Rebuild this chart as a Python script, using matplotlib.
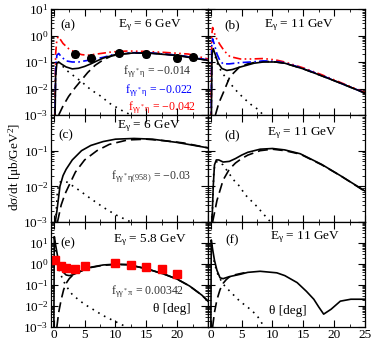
import matplotlib
matplotlib.use("Agg")
import matplotlib.pyplot as plt
import numpy as np
from matplotlib.ticker import LogLocator, MultipleLocator, NullFormatter, FuncFormatter

plt.rcParams['font.family'] = ['Liberation Serif', 'DejaVu Serif']
plt.rcParams['mathtext.fontset'] = 'custom'
plt.rcParams['mathtext.rm'] = 'Liberation Serif'
plt.rcParams['mathtext.default'] = 'regular'

# ---- panel (a): eta, 6 GeV ----
a_dot_t = [0.15, 0.25, 0.4, 0.6, 1.0, 2.0, 3.0, 4.5, 6.0, 7.7, 9.0, 11.0, 12.5]
a_dot_y = [1e-4, 0.02, 0.08, 0.1, 0.09, 0.05, 0.033, 0.018, 0.009, 0.005, 0.0028, 0.0015, 0.001]
a_dash_t = [0.8, 1.5, 2.4, 3.5, 4.5, 5.5, 6.7, 8.0, 9.4, 11, 13, 15, 17, 19, 21, 23, 25]
a_dash_y = [0.001, 0.0022, 0.005, 0.011, 0.021, 0.04, 0.075, 0.12, 0.17, 0.2, 0.22, 0.22, 0.21, 0.19, 0.17, 0.14, 0.115]
a_tot_t = [0.15, 0.3, 0.5, 0.8, 1.2, 2.0, 3.0, 4.0, 5.0, 6.0, 7.0, 8.0, 10, 13, 16, 20, 25]
a_tot_y = [1e-4, 0.03, 0.09, 0.1, 0.085, 0.065, 0.055, 0.058, 0.068, 0.085, 0.11, 0.14, 0.19, 0.22, 0.21, 0.175, 0.115]
a_blue_t = [0.15, 0.3, 0.5, 0.8, 1.2, 2.0, 3.0, 4.0, 5.0, 6.0, 8.0, 10, 13, 16, 20, 25]
a_blue_y = [1e-4, 0.05, 0.18, 0.21, 0.16, 0.11, 0.1, 0.1, 0.11, 0.12, 0.15, 0.2, 0.225, 0.215, 0.18, 0.12]
a_red_t = [0.15, 0.3, 0.5, 0.7, 1.0, 1.5, 2.4, 3.5, 4.5, 5.5, 7.0, 9.4, 12, 15, 18, 21.8, 25]
a_red_y = [1e-4, 0.2, 0.7, 0.9, 0.75, 0.5, 0.32, 0.23, 0.19, 0.18, 0.2, 0.24, 0.26, 0.25, 0.23, 0.2, 0.13]
a_data_t = [3.5, 6.0, 10.5, 15.0, 20.0, 22.5]
a_data_y = [0.2, 0.14, 0.22, 0.2, 0.14, 0.15]
a_data_err = [0.04, 0.03, 0.04, 0.04, 0.03, 0.03]

# ---- panel (b): eta, 11 GeV ----
b_dot_t = [0.05, 0.15, 0.3, 0.6, 1.2, 2.0, 3.1, 4.2, 5.3, 6.5, 7.7, 8.5]
b_dot_y = [1e-4, 0.1, 0.3, 0.2, 0.07, 0.035, 0.016, 0.008, 0.0044, 0.0025, 0.0016, 0.001]
b_dash_t = [0.75, 1.3, 2.0, 3.1, 4.7, 6.0, 7.5, 9.0, 10.5, 12, 15, 18, 21, 25]
b_dash_y = [0.001, 0.0028, 0.0067, 0.028, 0.066, 0.085, 0.1, 0.105, 0.1, 0.09, 0.055, 0.03, 0.016, 0.0067]
b_tot_t = [0.05, 0.2, 0.4, 0.7, 1.2, 1.8, 2.6, 3.5, 4.5, 5.8, 7.0, 8.5, 10.5, 12, 15, 18, 21, 25]
b_tot_y = [1e-4, 0.2, 0.32, 0.2, 0.09, 0.057, 0.048, 0.052, 0.062, 0.075, 0.09, 0.1, 0.1, 0.09, 0.055, 0.03, 0.016, 0.0067]
b_blue_t = [0.05, 0.15, 0.3, 0.6, 1.0, 1.5, 2.0, 3.0, 4.8, 6.5, 8.5, 10.5, 12, 15, 18, 21, 25]
b_blue_y = [1e-4, 0.4, 0.75, 0.45, 0.2, 0.11, 0.085, 0.085, 0.095, 0.1, 0.11, 0.105, 0.093, 0.057, 0.031, 0.016, 0.0068]
b_red_t = [0.05, 0.15, 0.3, 0.6, 1.0, 1.5, 2.2, 3.1, 4.8, 6.5, 8.5, 10.5, 12, 15, 18, 21, 25]
b_red_y = [1e-4, 1.0, 2.0, 1.2, 0.7, 0.45, 0.26, 0.16, 0.13, 0.13, 0.135, 0.12, 0.1, 0.06, 0.033, 0.017, 0.007]

# ---- panel (c): eta', 6 GeV ----
c_dot_t = [0.3, 0.6, 1.0, 1.5, 2.2, 4.0, 6.0, 8.0, 10.0, 12.5]
c_dot_y = [0.001, 0.008, 0.013, 0.014, 0.013, 0.008, 0.0045, 0.0026, 0.0016, 0.001]
c_dash_t = [0.6, 1.2, 1.8, 2.4, 3.5, 5.0, 7.0, 9.0, 12, 15, 18, 21, 25]
c_dash_y = [0.001, 0.003, 0.006, 0.01, 0.025, 0.055, 0.1, 0.15, 0.2, 0.21, 0.19, 0.165, 0.12]
c_tot_t = [0.25, 0.5, 1.0, 1.5, 2.0, 3.0, 4.5, 6.0, 8.0, 10, 13, 16, 20, 25]
c_tot_y = [0.001, 0.002, 0.01, 0.02, 0.03, 0.055, 0.1, 0.14, 0.18, 0.21, 0.22, 0.21, 0.17, 0.12]

# ---- panel (d): eta', 11 GeV ----
d_dot_t = [0.2, 0.5, 1.0, 2.0, 2.8, 4.0, 4.7, 5.5, 7.5, 8.5, 9.7]
d_dot_y = [0.001, 0.03, 0.05, 0.04, 0.025, 0.013, 0.01, 0.006, 0.0027, 0.0017, 0.001]
d_dash_t = [0.3, 1.0, 2.0, 3.0, 4.0, 5.0, 6.0, 8.0, 10, 12, 14.5, 18, 21, 25]
d_dash_y = [0.001, 0.004, 0.015, 0.03, 0.045, 0.06, 0.075, 0.1, 0.11, 0.1, 0.08, 0.04, 0.02, 0.0072]
d_tot_t = [0.2, 0.4, 0.6, 0.9, 1.3, 2.0, 3.0, 4.0, 5.0, 6.0, 8.0, 10, 12, 14.5, 18, 21, 25]
d_tot_y = [0.001, 0.01, 0.04, 0.055, 0.055, 0.048, 0.05, 0.06, 0.075, 0.09, 0.11, 0.115, 0.105, 0.082, 0.041, 0.02, 0.0074]

# ---- panel (e): pi0, 5.8 GeV ----
e_dot_t = [0.08, 0.3, 0.6, 1.0, 1.5, 2.0, 3.0, 4.0, 5.0, 6.5, 8.0, 10.0, 11.8]
e_dot_y = [20, 5, 1.2, 0.4, 0.17, 0.09, 0.035, 0.02, 0.012, 0.0065, 0.0035, 0.0018, 0.001]
e_dash_t = [0.5, 0.8, 1.2, 1.6, 2.0, 2.5, 3.0, 4.0, 5.0, 6.0, 8.0, 10, 12, 15, 18, 20, 22, 24, 25]
e_dash_y = [0.001, 0.005, 0.02, 0.06, 0.12, 0.2, 0.28, 0.4, 0.55, 0.68, 0.87, 0.95, 0.92, 0.6, 0.32, 0.19, 0.09, 0.033, 0.017]
e_tot_t = [0.0, 0.08, 0.3, 0.6, 1.0, 1.5, 2.0, 2.5, 3.0, 4.0, 5.0, 6.0, 8.0, 10, 12, 15, 18, 20, 22, 24, 25]
e_tot_y = [1e-4, 20, 8, 2.5, 0.9, 0.42, 0.3, 0.28, 0.3, 0.4, 0.55, 0.7, 0.9, 0.98, 0.94, 0.6, 0.32, 0.19, 0.09, 0.033, 0.017]
e_data_t = [0.2, 1.2, 2.0, 3.5, 5.0, 10.0, 12.5, 15.0, 17.5, 20.0]
e_data_y = [1.6, 0.78, 0.66, 0.55, 0.78, 1.13, 0.93, 0.7, 0.55, 0.35]

# ---- panel (f): pi0, 11 GeV ----
f_dot_t = [0.5, 1.0, 1.5, 2.0, 3.1, 4.7, 6.4, 7.5, 8.5]
f_dot_y = [1.5, 0.4, 0.2, 0.11, 0.05, 0.017, 0.007, 0.0035, 0.0012]
f_dash_t = [0.3, 0.6, 1.0, 1.5, 2.0, 2.5, 3.0, 4.0, 5.0, 6.0]
f_dash_y = [0.001, 0.005, 0.02, 0.06, 0.12, 0.18, 0.24, 0.31, 0.36, 0.41]
f_tot_t = [0.0, 0.08, 0.3, 0.6, 1.0, 1.5, 2.0, 3.0, 4.7, 6.0, 8.0, 10.7, 12, 14, 15.5, 16.7, 17.5, 18.3, 19.5, 21, 22.7, 25]
f_tot_y = [1e-4, 14, 5, 1.5, 0.5, 0.22, 0.2, 0.25, 0.32, 0.4, 0.45, 0.38, 0.28, 0.13, 0.05, 0.021, 0.009, 0.0041, 0.007, 0.017, 0.021, 0.021]

RED = '#ff0000'
BLUE = '#0000ff'
DASH = (0, (6, 3))
DOT = (0, (1, 3))
DASHDOT = (0, (5, 2, 1, 2))
DASHDOTDOT = (0, (5, 2, 1, 2, 1, 2))
FS = 9.5
FS_F = 8.5


def setup(ax, ylim, left, bottom, hide_top=False, hide_right_x=False):
    ax.set_yscale('log')
    ax.set_xlim(-0.45, 25)
    ax.set_ylim(*ylim)
    ax.xaxis.set_major_locator(MultipleLocator(5))
    ax.xaxis.set_minor_locator(MultipleLocator(2.5))
    ax.yaxis.set_major_locator(LogLocator(base=10, numticks=10))
    ax.yaxis.set_minor_locator(LogLocator(base=10, subs=np.arange(2, 10), numticks=10))
    ax.yaxis.set_minor_formatter(NullFormatter())
    ax.tick_params(which='both', direction='in', top=True, right=True, labelsize=FS)
    ax.tick_params(which='major', length=5, width=0.8)
    ax.tick_params(which='minor', length=2.5, width=0.6)
    ax.tick_params(axis='x', pad=1.5)
    ax.tick_params(axis='y', pad=2)
    if left:
        top_exp = int(round(np.log10(ylim[1])))

        def fmt(v, pos, top_exp=top_exp):
            e = int(round(np.log10(v)))
            if hide_top and e == top_exp:
                return ''
            return r'10$^{%d}$' % e
        ax.yaxis.set_major_formatter(FuncFormatter(fmt))
    else:
        ax.tick_params(labelleft=False)
    if bottom:
        if hide_right_x:
            ax.xaxis.set_major_formatter(FuncFormatter(lambda v, p: '' if v > 24 else '%d' % v))
    else:
        ax.tick_params(labelbottom=False)
    for s in ax.spines.values():
        s.set_linewidth(0.9)


fig = plt.figure(figsize=(3.74, 3.43), dpi=100)
W = 374.0
H = 343.0
cols = [51, 208]
rows = [(9, 115), (115, 222), (222, 327)]
axes = {}
names = [['a', 'b'], ['c', 'd'], ['e', 'f']]
for r, (ytop, ybot) in enumerate(rows):
    for c, x0 in enumerate(cols):
        ax = fig.add_axes([x0 / W, 1 - ybot / H, 157 / W, (ybot - ytop) / H])
        axes[names[r][c]] = ax

lw = 1.2
# (a)
ax = axes['a']
ax.plot(a_dot_t, a_dot_y, color='k', ls=DOT, lw=lw)
ax.plot(a_dash_t, a_dash_y, color='k', ls=DASH, lw=lw)
ax.plot(a_red_t, a_red_y, color=RED, ls=DASHDOTDOT, lw=lw)
ax.plot(a_blue_t, a_blue_y, color=BLUE, ls=DASHDOT, lw=lw)
ax.plot(a_tot_t, a_tot_y, color='k', lw=lw)
ax.errorbar(a_data_t, a_data_y, yerr=a_data_err, fmt='o', color='k', ms=5.5, capsize=2, elinewidth=0.8)
setup(ax, (1e-3, 10), True, False)
ax.text(0.108, 0.85, '(a)', transform=ax.transAxes, ha='center', va='center', fontsize=FS)
ax.text(0.627, 0.85, 'E$_γ$ = 6 GeV', transform=ax.transAxes, ha='center', va='center', fontsize=FS)
ax.text(0.46, 0.406, 'f$_{γγ^*η}$ = −0.014', transform=ax.transAxes, ha='left', va='center', fontsize=FS_F, color='#333333')
ax.text(0.47, 0.226, 'f$_{γγ^*η}$ = −0.022', transform=ax.transAxes, ha='left', va='center', fontsize=FS_F, color=BLUE)
ax.text(0.49, 0.066, 'f$_{γγ^*η}$ = −0.042', transform=ax.transAxes, ha='left', va='center', fontsize=FS_F, color=RED)

# (b)
ax = axes['b']
ax.plot(b_dot_t, b_dot_y, color='k', ls=DOT, lw=lw)
ax.plot(b_dash_t, b_dash_y, color='k', ls=DASH, lw=lw)
ax.plot(b_red_t, b_red_y, color=RED, ls=DASHDOTDOT, lw=lw)
ax.plot(b_blue_t, b_blue_y, color=BLUE, ls=DASHDOT, lw=lw)
ax.plot(b_tot_t, b_tot_y, color='k', lw=lw)
setup(ax, (1e-3, 10), False, False)
ax.text(0.153, 0.85, '(b)', transform=ax.transAxes, ha='center', va='center', fontsize=FS)
ax.text(0.58, 0.85, 'E$_γ$ = 11 GeV', transform=ax.transAxes, ha='center', va='center', fontsize=FS)

# (c)
ax = axes['c']
ax.plot(c_dot_t, c_dot_y, color='k', ls=DOT, lw=lw)
ax.plot(c_dash_t, c_dash_y, color='k', ls=DASH, lw=lw)
ax.plot(c_tot_t, c_tot_y, color='k', lw=lw)
setup(ax, (1e-3, 1), True, False, hide_top=True)
ax.text(0.095, 0.813, '(c)', transform=ax.transAxes, ha='center', va='center', fontsize=FS)
ax.text(0.62, 0.9, 'E$_γ$ = 6 GeV', transform=ax.transAxes, ha='center', va='center', fontsize=FS)
ax.text(0.385, 0.42, 'f$_{γγ^*η(958)}$ = −0.03', transform=ax.transAxes, ha='left', va='center', fontsize=FS_F, color='#333333')

# (d)
ax = axes['d']
ax.plot(d_dot_t, d_dot_y, color='k', ls=DOT, lw=lw)
ax.plot(d_dash_t, d_dash_y, color='k', ls=DASH, lw=lw)
ax.plot(d_tot_t, d_tot_y, color='k', lw=lw)
setup(ax, (1e-3, 1), False, False)
ax.text(0.153, 0.81, '(d)', transform=ax.transAxes, ha='center', va='center', fontsize=FS)
ax.text(0.6, 0.83, 'E$_γ$ = 11 GeV', transform=ax.transAxes, ha='center', va='center', fontsize=FS)

# (e)
ax = axes['e']
ax.plot(e_dot_t, e_dot_y, color='k', ls=DOT, lw=lw)
ax.plot(e_dash_t, e_dash_y, color='k', ls=DASH, lw=lw)
ax.plot(e_tot_t, e_tot_y, color='k', lw=lw)
ax.plot(e_data_t, e_data_y, 's', color=RED, ms=5.5, mec=RED)
setup(ax, (1e-3, 100), True, True, hide_top=True, hide_right_x=True)
ax.text(0.108, 0.80, '(e)', transform=ax.transAxes, ha='center', va='center', fontsize=FS)
ax.text(0.63, 0.83, 'E$_γ$ = 5.8 GeV', transform=ax.transAxes, ha='center', va='center', fontsize=FS)
ax.text(0.385, 0.335, 'f$_{γγ^*π}$ = 0.00342', transform=ax.transAxes, ha='left', va='center', fontsize=FS_F, color='#333333')
ax.text(0.77, 0.17, 'θ [deg]', transform=ax.transAxes, ha='center', va='center', fontsize=FS)

# (f)
ax = axes['f']
ax.plot(f_dot_t, f_dot_y, color='k', ls=DOT, lw=lw)
ax.plot(f_dash_t, f_dash_y, color='k', ls=DASH, lw=lw)
ax.plot(f_tot_t, f_tot_y, color='k', lw=lw)
setup(ax, (1e-3, 100), False, True)
ax.text(0.153, 0.83, '(f)', transform=ax.transAxes, ha='center', va='center', fontsize=FS)
ax.text(0.62, 0.86, 'E$_γ$ = 11 GeV', transform=ax.transAxes, ha='center', va='center', fontsize=FS)
ax.text(0.51, 0.15, 'θ [deg]', transform=ax.transAxes, ha='center', va='center', fontsize=FS)

fig.text(15 / W, 1 - 167 / H, 'dσ/dt [μb/GeV$^2$]', rotation=90, ha='center', va='center', fontsize=FS)

fig.savefig('out.png', dpi=100)
